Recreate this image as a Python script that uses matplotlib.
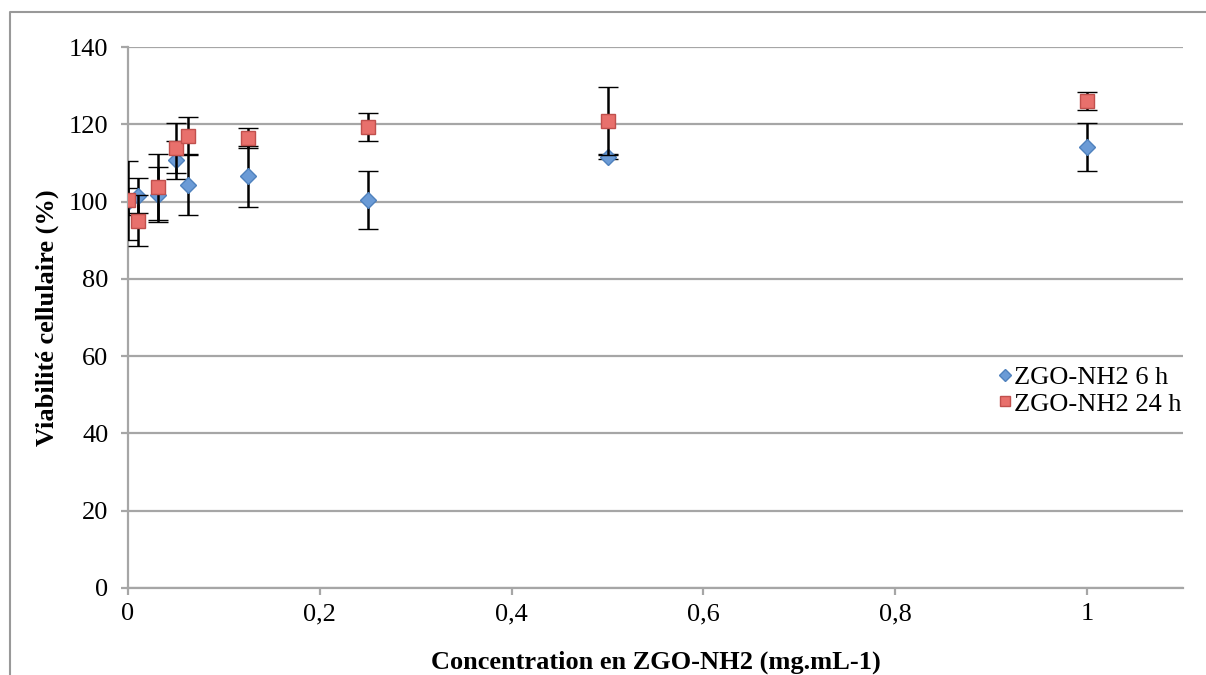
import numpy as np
import matplotlib
matplotlib.use('Agg')
import matplotlib.pyplot as plt
from matplotlib.ticker import FuncFormatter
from matplotlib.lines import Line2D

# concentrations (mg/mL)
conc = [0, 0.01, 0.03125, 0.05, 0.0625, 0.125, 0.25, 0.5, 1]

# 6 h
via_6h = [100, 101.5, 101.8, 110.8, 104.4, 106.5, 100.3, 111.6, 114.2]
err_6h = [3.5, 4.5, 7.2, 5.0, 7.9, 8.0, 7.5, 0.6, 6.2]

# 24 h
via_24h = [100.3, 95.1, 103.8, 113.8, 116.9, 116.5, 119.3, 120.8, 126.0]
err_24h = [10.3, 6.7, 8.5, 6.5, 4.9, 2.6, 3.6, 8.8, 2.4]

plt.rcParams['font.family'] = ['Liberation Serif', 'DejaVu Serif']

fig = plt.figure(figsize=(12.06, 6.75), dpi=100)
ax = fig.add_axes([128 / 1206, 87 / 675, 1055 / 1206, 541 / 675])

grid_col = '#a6a6a6'
fs = 19

ax.errorbar(conc, via_6h, yerr=err_6h, fmt='D', color='black', ecolor='black',
            elinewidth=1.8, capsize=7.5, capthick=1.8,
            markerfacecolor='#6b9bd6', markeredgecolor='#4f81bd', markersize=8,
            markeredgewidth=1, label='ZGO-NH2 6 h', zorder=3)
ax.errorbar(conc, via_24h, yerr=err_24h, fmt='s', color='black', ecolor='black',
            elinewidth=1.8, capsize=7.5, capthick=1.8,
            markerfacecolor='#e8706c', markeredgecolor='#c0504d', markersize=10,
            markeredgewidth=1, label='ZGO-NH2 24 h', zorder=4)

ax.set_xlim(0, 1.1)
ax.set_ylim(0, 140)
ax.set_xticks([0, 0.2, 0.4, 0.6, 0.8, 1.0])
ax.set_yticks(np.arange(0, 141, 20))


def fr_fmt(v, pos):
    s = '%g' % round(v, 2)
    return s.replace('.', ',')


ax.xaxis.set_major_formatter(FuncFormatter(fr_fmt))
ax.yaxis.grid(True, color=grid_col, linewidth=1.6)
ax.set_axisbelow(True)

for s in ['top', 'right']:
    ax.spines[s].set_visible(False)
for s in ['left', 'bottom']:
    ax.spines[s].set_color(grid_col)
    ax.spines[s].set_linewidth(1.6)

ax.tick_params(axis='both', colors=grid_col, labelcolor='black', labelsize=fs,
               length=5, width=1.6, direction='out')
ax.tick_params(axis='x', pad=6)
ax.tick_params(axis='y', pad=9)

ax.set_xlabel('Concentration en ZGO-NH2 (mg.mL-1)', fontsize=fs, fontweight='bold')
ax.set_ylabel('Viabilité cellulaire (%)', fontsize=fs, fontweight='bold')
ax.xaxis.set_label_coords(0.5, -0.115)
ax.yaxis.set_label_coords(-0.065, 0.5)

# legend without error bars
h1 = Line2D([], [], linestyle='none', marker='D', markersize=6,
            markerfacecolor='#6b9bd6', markeredgecolor='#4f81bd')
h2 = Line2D([], [], linestyle='none', marker='s', markersize=7,
            markerfacecolor='#e8706c', markeredgecolor='#c0504d')
ax.legend([h1, h2], ['ZGO-NH2 6 h', 'ZGO-NH2 24 h'], loc='center left',
          bbox_to_anchor=(0.816, 0.365), frameon=False, fontsize=fs,
          handlelength=0.4, handletextpad=0.15, labelspacing=0.12, borderaxespad=0)

# chart frame (partially visible)
fig.add_artist(Line2D([10 / 1206, 10 / 1206, 1.0], [0, 1 - 12 / 675, 1 - 12 / 675],
                      transform=fig.transFigure, color='#999999', linewidth=1.5))

fig.savefig('out.png', dpi=100)
